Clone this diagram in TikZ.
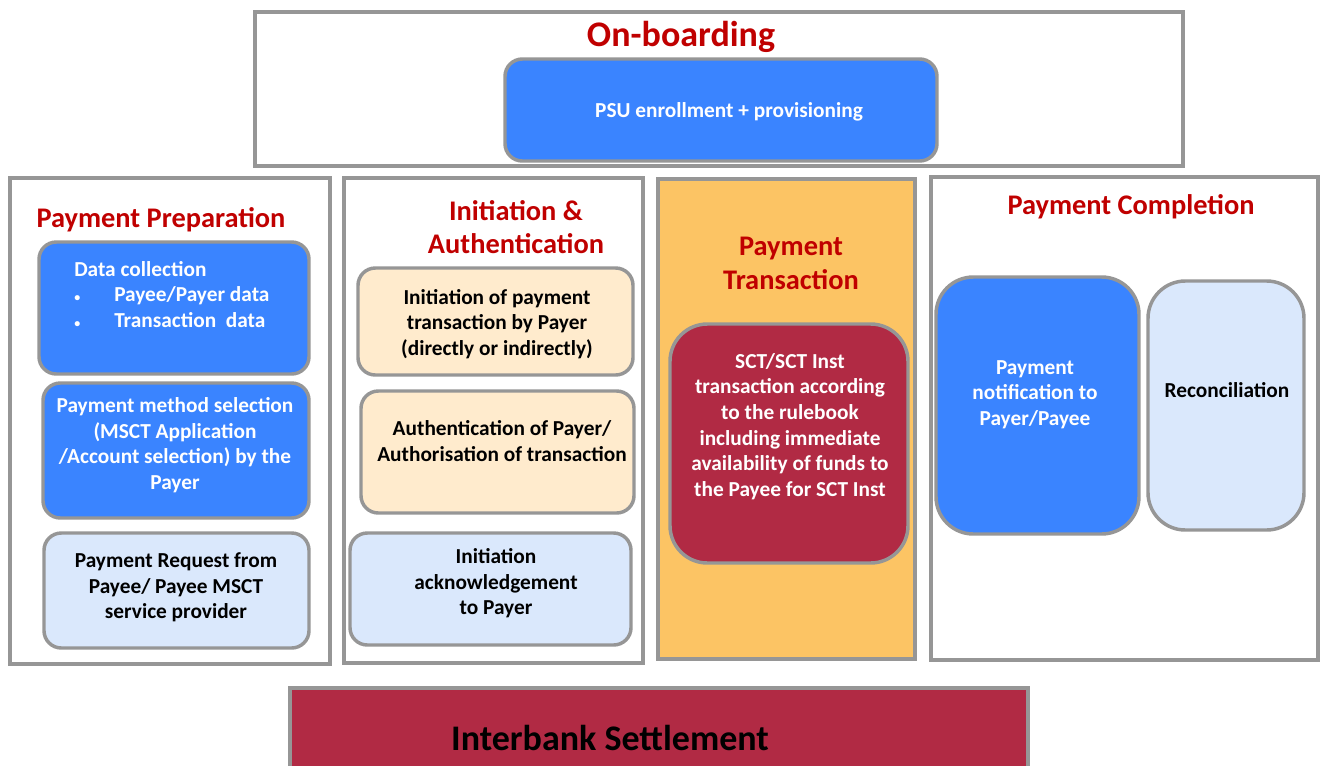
\documentclass[tikz,border=0pt]{standalone}
\usepackage{fontspec}
\setmainfont{Carlito}
\usetikzlibrary{positioning}

\definecolor{frameGray}{RGB}{150,150,150}
\definecolor{titleRed}{RGB}{192,0,0}
\definecolor{psuBlue}{RGB}{58,132,255}
\definecolor{paleBlue}{RGB}{218,232,252}
\definecolor{cream}{RGB}{255,235,205}
\definecolor{amber}{RGB}{252,196,100}
\definecolor{crimson}{RGB}{177,42,68}

\tikzset{
  phase/.style={draw=frameGray, line width=2.3pt},
  rbox/.style={draw=frameGray, line width=2.6pt, rounded corners=13pt},
  tallbox/.style={draw=frameGray, line width=2.6pt, rounded corners=28pt},
  phasetitle/.style={text=titleRed, font=\fontsize{21.3}{25}\selectfont\bfseries, align=center, inner sep=0pt, yshift=-1.8pt},
  boxtext/.style={font=\fontsize{16}{19.2}\selectfont\bfseries, align=center, inner sep=0pt, yshift=-1.5pt},
}

\begin{document}
\begin{tikzpicture}[x=0.75pt,y=0.75pt,yscale=-1,xscale=1]
\useasboundingbox (0,0) rectangle (1322,765);

%Rect On-boarding
\draw [phase, fill=white] (255,12) rectangle (1183,166) ;
%Rounded Rect
\draw [rbox, fill=psuBlue] (505,59) rectangle (937,161) ;
% Text Node
\node [phasetitle, font=\fontsize{27}{30}\selectfont\bfseries] (onb) at (681,35) {On-boarding};
% Text Node
\node [boxtext, text=white] (psu) at (729,110) {PSU enrollment + provisioning};

%Rect Payment Preparation
\draw [phase, fill=white] (10,178) rectangle (330,664) ;
%Rounded Rect
\draw [rbox, fill=psuBlue] (39,242) rectangle (309,374) ;
%Rounded Rect
\draw [rbox, fill=psuBlue] (43,383) rectangle (309,518) ;
%Rounded Rect
\draw [rbox, fill=paleBlue] (44,533) rectangle (309,648) ;
% Text Node
\node [phasetitle] (prep) at (161,217) {Payment Preparation};
% Text Node
\node [boxtext, text=white, align=left, anchor=west] (datacol) at (74,292.5)
  {Data collection\\\makebox[30pt][l]{\small\textbullet}Payee/Payer data\\\makebox[30pt][l]{\small\textbullet}Transaction\ \ data};
% Text Node
\node [boxtext, text=white] (method) at (175,443)
  {Payment method selection\\(MSCT Application\\/Account selection) by the\\Payer};
% Text Node
\node [boxtext] (request) at (176,585.5)
  {Payment Request from\\Payee/ Payee MSCT\\service provider};

%Rect Initiation & Authentication
\draw [phase, fill=white] (344,178) rectangle (643,663) ;
%Rounded Rect
\draw [rbox, fill=cream] (358,268) rectangle (633,375) ;
%Rounded Rect
\draw [rbox, fill=cream] (361,391) rectangle (634,513) ;
%Rounded Rect
\draw [rbox, fill=paleBlue] (350,533) rectangle (631,645) ;
% Text Node
\node [phasetitle] (init) at (516,224.5) {Initiation \&\\Authentication};
% Text Node
\node [boxtext] (initpay) at (497,322)
  {Initiation of payment\\transaction by Payer\\(directly or indirectly)};
% Text Node
\node [boxtext] (auth) at (502,439)
  {Authentication of Payer/\\Authorisation of transaction};
% Text Node
\node [boxtext] (ack) at (496,581.5)
  {Initiation\\acknowledgement\\to Payer};

%Rect Payment Transaction
\draw [phase, fill=amber] (658,179) rectangle (915,659) ;
%Rounded Rect
\draw [tallbox, fill=crimson] (670,324) rectangle (908,563) ;
% Text Node
\node [phasetitle] (trans) at (791,261) {Payment\\Transaction};
% Text Node
\node [boxtext, text=white] (sct) at (790,424.5)
  {SCT/SCT Inst\\transaction according\\to the rulebook\\including immediate\\availability of funds to\\the Payee for SCT Inst};

%Rect Payment Completion
\draw [phase, fill=white] (931,177) rectangle (1318,660) ;
%Rounded Rect
\draw [tallbox, fill=psuBlue] (936,277) rectangle (1139,534) ;
%Rounded Rect
\draw [tallbox, fill=paleBlue] (1148,281) rectangle (1304,530) ;
% Text Node
\node [phasetitle] (compl) at (1131,204) {Payment Completion};
% Text Node
\node [boxtext, text=white] (notif) at (1035,392.5)
  {Payment\\notification to\\Payer/Payee};
% Text Node
\node [boxtext] (recon) at (1227,388) {Reconciliation};

%Rect Interbank Settlement
\draw [phase, fill=crimson] (290,688) rectangle (1028,780) ;
% Text Node
\node [boxtext, font=\fontsize{27}{30}\selectfont\bfseries] (settle) at (610,736) {Interbank Settlement};

\end{tikzpicture}
\end{document}
